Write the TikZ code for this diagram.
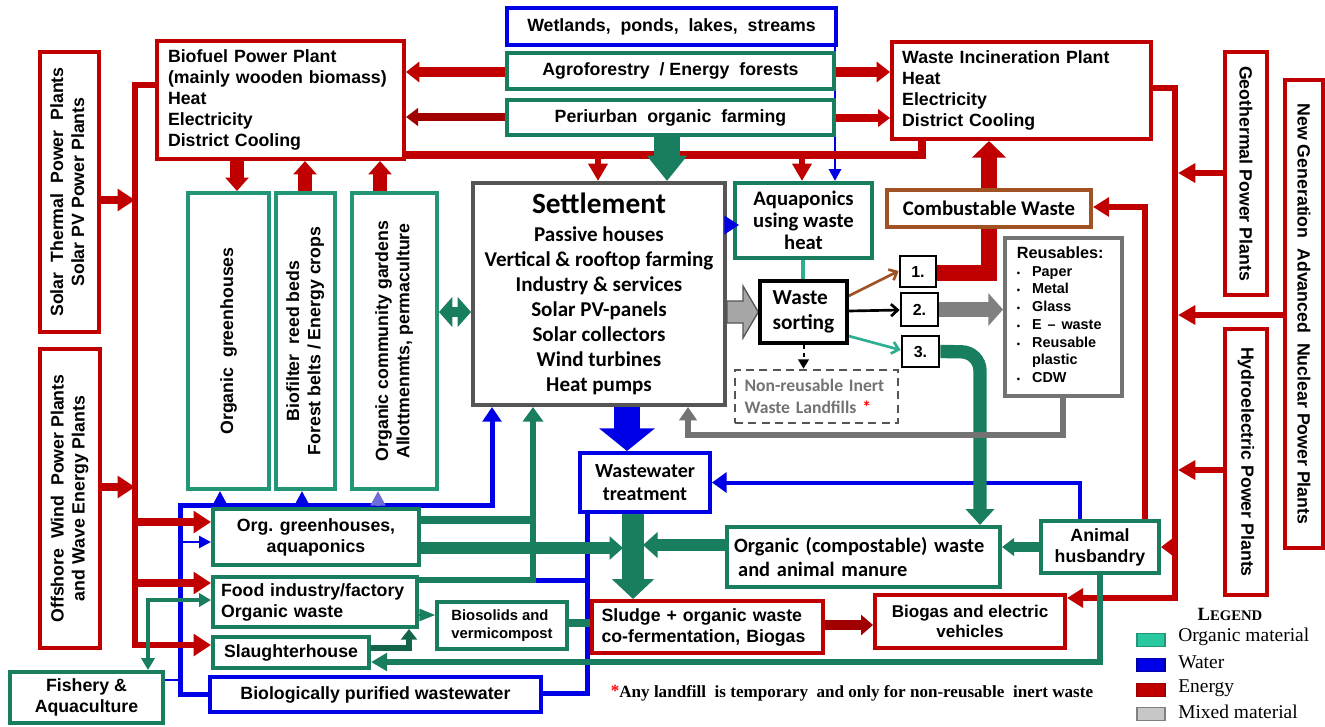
\documentclass[tikz,border=0pt]{standalone}
\usepackage{fontspec}
\usepackage{graphicx}
\setmainfont{Liberation Sans}
\newfontfamily\calfont{Carlito}
\newfontfamily\tnrfont{Liberation Serif}
\usetikzlibrary{arrows.meta}
\pgfdeclarelayer{bg}
\pgfsetlayers{bg,main}
\definecolor{ered}{RGB}{192,0,0}
\definecolor{dred}{RGB}{160,0,0}
\definecolor{ogreen}{RGB}{25,125,95}
\definecolor{tgreen}{RGB}{35,150,120}
\definecolor{lgreen}{RGB}{45,175,145}
\definecolor{wblue}{RGB}{0,0,230}
\definecolor{sgray}{RGB}{85,85,85}
\definecolor{mgray}{RGB}{166,166,166}
\definecolor{dgray}{RGB}{115,115,115}
\definecolor{agray}{RGB}{128,128,128}
\definecolor{brn}{RGB}{160,82,35}
\definecolor{leggreen}{RGB}{40,200,160}
\definecolor{purp}{RGB}{110,110,215}
\newcommand\mkbox[7]{%
  \pgfmathsetmacro\bxw{((#4)-(#2))*0.75}%
  \pgfmathsetmacro\bxh{((#5)-(#3))*0.75}%
  \node[#6, minimum width=\bxw pt, minimum height=\bxh pt] (#1) at ({((#2)+(#4))/2},{((#3)+(#5))/2}) {#7};}
\newcommand\tbul{{\fontsize{7}{7}\selectfont\textbullet}}
\tikzset{
 bx/.style={draw, line width=3pt, fill=white, inner sep=0pt, align=center},
 rbx/.style={bx, draw=ered},
 gbx/.style={bx, draw=ogreen},
 tbx/.style={bx, draw=tgreen},
 bbx/.style={bx, draw=wblue},
 nbx/.style={bx, draw=black, line width=2pt, font=\bfseries\fontsize{12}{14}\selectfont},
 cal/.style 2 args={font=\calfont\bfseries\fontsize{#1}{#2}\selectfont},
 ar/.style 2 args={-{Triangle[width=#1,length=#2]}},
 dar/.style 2 args={{Triangle[width=#1,length=#2]}-{Triangle[width=#1,length=#2]}},
 barb/.style={-{Straight Barb[width=9pt,length=5pt]}},
}
\begin{document}
\begin{tikzpicture}[x=0.75pt,y=-0.75pt,font=\bfseries\fontsize{13.3}{15.8}\selectfont]
\useasboundingbox (0,0) rectangle (1325,726);
\begin{pgfonlayer}{bg}
\fill[white] (0,0) rectangle (1325,726);
\end{pgfonlayer}

% ---------- boxes ----------
\mkbox{sol}{40}{52}{99}{332}{rbx}{\rotatebox{90}{\begin{tabular}{@{}c@{}}Solar\ \ Thermal\ \ Power\ \ Plants\\Solar PV Power Plants\end{tabular}}}
\mkbox{off}{40}{349}{100}{648}{rbx}{\rotatebox{90}{\begin{tabular}{@{}c@{}}Offshore\ \ Wind\ \ Power Plants\\and Wave Energy Plants\end{tabular}}}
\mkbox{bf}{157}{41}{404}{159}{rbx, text width=168.75pt, align=left}{Biofuel Power Plant\\(mainly wooden biomass)\\Heat\\Electricity\\District Cooling}
\mkbox{wet}{507}{8}{836}{45}{bbx}{Wetlands,\ \ ponds,\ \ lakes,\ \ streams}
\mkbox{agro}{507}{53}{834}{89}{gbx}{Agroforestry\ \ / Energy\ \ forests}
\mkbox{peri}{507}{100}{834}{135}{gbx}{Periurban\ \ organic\ \ farming}
\mkbox{inc}{892}{42}{1151}{139}{rbx, text width=179pt, align=left}{Waste Incineration Plant\\Heat\\Electricity\\District Cooling}
\mkbox{settle}{473}{183}{725}{405}{bx, draw=sgray, cal={15.8}{18.75}}{{\fontsize{22}{26}\selectfont Settlement}\\[2pt]Passive houses\\Vertical \& rooftop farming\\Industry \& services\\Solar PV-panels\\Solar collectors\\Wind turbines\\Heat pumps}
\mkbox{aqua}{735}{183}{872}{258}{gbx, cal={15.5}{16.5}}{Aquaponics\\using waste\\heat}
\mkbox{comb}{887}{190}{1091}{227}{bx, draw=brn, cal={15.6}{18}}{Combustable Waste}
\mkbox{ws}{760}{281}{847}{343}{bx, draw=black, line width=2.5pt, cal={16}{19}, align=left}{Waste\\sorting}
\mkbox{b1}{900}{256}{936}{287}{nbx}{1.}
\mkbox{b2}{901}{293}{938}{326}{nbx}{2.}
\mkbox{b3}{902}{336}{939}{367}{nbx}{3.}
\mkbox{reu}{1005}{238}{1122}{396}{bx, draw=dgray, text width=70pt, align=left}{\fontsize{10.8}{13.3}\selectfont\begin{tabular}{@{}l@{\hspace{9pt}}l@{}}\multicolumn{2}{@{}l@{}}{\fontsize{12.2}{15}\selectfont Reusables:}\\ \tbul & Paper\\ \tbul & Metal\\ \tbul & Glass\\ \tbul & E – waste\\ \tbul & Reusable\\ & plastic\\ \tbul & CDW\end{tabular}}
\mkbox{nr}{735}{370}{898}{423}{bx, draw=sgray, dash pattern=on 6pt off 4pt, line width=2pt, text=dgray, cal={13.2}{17}, text width=108pt, align=left}{Non-reusable Inert\\Waste Landfills {\color{red}*}}
\mkbox{ogh}{188}{193}{269}{489}{tbx}{\rotatebox{90}{Organic\ \ greenhouses}}
\mkbox{bfl}{276}{193}{335}{489}{tbx}{\rotatebox{90}{\begin{tabular}{@{}c@{}}Biofilter\ \ reed beds\\Forest belts / Energy crops\end{tabular}}}
\mkbox{cg}{352}{193}{437}{489}{tbx}{\rotatebox{90}{\begin{tabular}{@{}c@{}}Organic community gardens\\Allottmenmts, permaculture\end{tabular}}}
\mkbox{ogr}{213}{509}{419}{565}{gbx}{Org. greenhouses,\\aquaponics}
\mkbox{food}{213}{577}{417}{627}{gbx, text width=141pt, align=left}{Food industry/factory\\Organic waste}
\mkbox{sl}{213}{637}{369}{668}{gbx}{Slaughterhouse}
\mkbox{bios}{437}{602}{567}{649}{gbx, line width=2.5pt, font=\bfseries\fontsize{11.1}{13.5}\selectfont, align=left}{Biosolids and\\vermicompost}
\mkbox{fish}{10}{672}{163}{723}{gbx}{Fishery \&\\Aquaculture}
\mkbox{bio}{210}{677}{541}{712}{bbx}{Biologically purified wastewater}
\mkbox{wwt}{580}{453}{710}{512}{bbx, cal={15}{17}}{Wastewater\\treatment}
\mkbox{sludge}{592}{601}{823}{653}{rbx, text width=159pt, align=left}{Sludge + organic waste\\co-fermentation, Biogas}
\mkbox{oc}{727}{527}{1000}{587}{gbx, cal={15.3}{17.5}, text width=194pt, align=left}{Organic (compostable) waste\\\hspace*{3pt}and animal manure}
\mkbox{anim}{1041}{521}{1159}{573}{gbx}{Animal\\husbandry}
\mkbox{bg}{875}{595}{1065}{648}{rbx, font=\bfseries\fontsize{12.8}{15.5}\selectfont}{Biogas and electric\\vehicles}
\mkbox{geo}{1225}{52}{1267}{295}{rbx}{\rotatebox{-90}{Geothermal Power Plants}}
\mkbox{nuc}{1285}{80}{1323}{548}{rbx}{\rotatebox{-90}{New Generation\ \ Advanced\ \ Nuclear Power Plants}}
\mkbox{hyd}{1225}{329}{1267}{595}{rbx}{\rotatebox{-90}{Hydroelectric Power Plants}}

% ---------- legend & note ----------
\node[font=\tnrfont\bfseries] (legt) at (1230,614) {{\fontsize{14}{14}\selectfont L}{\fontsize{11}{11}\selectfont EGEND}};
\tikzset{sw/.style={line width=0.8pt, minimum width=21pt, minimum height=9.5pt, inner sep=0pt},
 lt/.style={anchor=west, inner sep=0pt, font=\tnrfont\mdseries\fontsize{14.6}{16}\selectfont}}
\node[sw, draw=tgreen, fill=leggreen] (sw1) at (1151,640) {};
\node[sw, draw=wblue!70!black, fill=wblue] (sw2) at (1151,665) {};
\node[sw, draw=dred, fill=ered] (sw3) at (1151,690) {};
\node[sw, draw=agray, fill=black!22] (sw4) at (1151,714) {};
\node[lt] (lt1) at (1178,637) {Organic material};
\node[lt] (lt2) at (1178,662) {Water};
\node[lt] (lt3) at (1178,688) {Energy};
\node[lt] (lt4) at (1178,712) {Mixed material};
\node[font=\tnrfont\bfseries\fontsize{12.8}{15}\selectfont] (fn) at (852,693) {{\color{red}\raisebox{1pt}{*}}Any landfill\ \ is temporary\ \ and only for non-reusable\ \ inert waste};

% blue tip from settlement into aquaponics (drawn over the boxes)
\draw[wblue, line width=1pt, ar={14pt}{11pt}] (settle.east |- 0,225) -- (739,225);

% ---------- connectors ----------
\begin{pgfonlayer}{bg}
% water
\draw[wblue, line width=3.75pt, ar={14pt}{11pt}] (bio.west) -| (180,505) -- (492,505) -- (492,0 |- settle.south);
\draw[wblue, line width=2.5pt, ar={11pt}{11pt}] (220,505) -- (ogh.south -| 220,0);
\draw[wblue, line width=2.5pt, ar={11pt}{11pt}] (302,505) -- (bfl.south -| 302,0);
\draw[purp, line width=2.5pt, ar={11pt}{11pt}] (378,505) -- (cg.south -| 378,0);
\draw[wblue, line width=2pt, ar={9pt}{9pt}] (180,542) -- (ogr.west |- 0,542);
\draw[wblue, line width=1.5pt] (fish.east |- 0,680) -- (180,680);
\draw[wblue, line width=3.75pt] (bio.east |- 0,693) -| (wwt.south -| 587,0);
\draw[wblue, line width=3.75pt] (533,580) -- (587,580);
\draw[wblue, line width=2.2pt, ar={9pt}{9pt}] (wet.south -| 835,0) -- (aqua.north -| 835,0);
\draw[wblue, line width=19pt, ar={41pt}{17pt}] (settle.south -| 627,0) -- (wwt.north -| 627,0);
\draw[wblue, line width=3pt, ar={15pt}{11pt}] (anim.north -| 1080,0) |- (wwt.east);
% energy
\draw[ered, line width=5pt, ar={16pt}{13pt}] (bf.west |- 0,85) -- (135,85) -- (135,645) -- (sl.west |- 0,645);
\draw[ered, line width=6pt, ar={16pt}{13pt}] (135,522) -- (ogr.west |- 0,522);
\draw[ered, line width=6pt, ar={16pt}{13pt}] (135,583) -- (food.west |- 0,583);
\draw[ered, line width=6pt, ar={16pt}{13pt}] (sol.east |- 0,200) -- (135,200);
\draw[ered, line width=6pt, ar={16pt}{13pt}] (off.east |- 0,487) -- (135,487);
\draw[ered, line width=10pt, ar={17pt}{10pt}] (bf.south -| 237,0) -- (ogh.north -| 237,0);
\draw[ered, line width=10pt, ar={17pt}{10pt}] (bfl.north -| 305,0) -- (bf.south -| 305,0);
\draw[ered, line width=10pt, ar={17pt}{10pt}] (cg.north -| 380,0) -- (bf.south -| 380,0);
\draw[ered, line width=7.5pt, ar={15pt}{10pt}] (agro.west |- 0,72) -- (bf.east |- 0,72);
\draw[dred, line width=6pt, ar={13pt}{9pt}] (peri.west |- 0,117) -- (bf.east |- 0,117);
\draw[ered, line width=7.5pt, ar={15pt}{10pt}] (agro.east |- 0,72) -- (inc.west |- 0,72);
\draw[ered, line width=6pt, ar={13pt}{9pt}] (peri.east |- 0,118) -- (inc.west |- 0,118);
\draw[ered, line width=6pt] (bf.east |- 0,155) -- (922,155) -- (inc.south -| 922,0);
\draw[ered, line width=5pt, ar={14pt}{13pt}] (598,155) -- (settle.north -| 598,0);
\draw[ered, line width=5pt, ar={14pt}{13pt}] (802,155) -- (aqua.north -| 802,0);
\draw[ered, line width=5pt, ar={14pt}{12pt}] (inc.east |- 0,88) -- (1175,88) -- (1175,598) -- (bg.east |- 0,598);
\draw[ered, line width=5pt, ar={13pt}{9pt}] (1175,547) -- (anim.east |- 0,547);
\draw[ered, line width=5pt, ar={14pt}{12pt}] (anim.north -| 1145,0) -- (1145,207) -- (comb.east |- 0,207);
\draw[ered, line width=5pt, ar={14pt}{13pt}] (geo.west |- 0,173) -- (1178,173);
\draw[ered, line width=5pt, ar={14pt}{13pt}] (nuc.west |- 0,315) -- (1178,315);
\draw[ered, line width=5pt, ar={14pt}{13pt}] (hyd.west |- 0,470) -- (1178,470);
\draw[ered, line width=12.5pt] (b1.east |- 0,273) -- (989,273) -- (comb.south -| 989,0);
\draw[ered, line width=12.5pt, ar={25pt}{12.5pt}] (comb.north -| 989,0) -- (inc.south -| 989,0);
\draw[dred, line width=7.5pt, ar={15pt}{9pt}] (sludge.east |- 0,625) -- (bg.west |- 0,625);
% organic
\draw[ogreen, line width=19pt, ar={29pt}{19pt}] (peri.south -| 667,0) -- (settle.north -| 667,0);
\draw[ogreen, line width=7pt, dar={22pt}{10pt}] (cg.east |- 0,312) -- (settle.west |- 0,312);
\draw[lgreen, line width=2.5pt] (aqua.south -| 803,0) -- (ws.north -| 803,0);
\draw[ogreen, line width=10pt, rounded corners=14pt, ar={21pt}{12pt}] (b3.east) -- (980,352) -- (oc.north -| 980,0);
\draw[ogreen, line width=7.5pt, ar={13pt}{9pt}] (anim.west |- 0,547) -- (oc.east |- 0,547);
\draw[ogreen, line width=6pt] (ogr.east |- 0,520) -- (533,520);
\draw[ogreen, line width=5pt, ar={15pt}{11pt}] (food.east |- 0,580) -- (533,580) -- (settle.south -| 533,0);
\draw[ogreen, line width=16pt, ar={31pt}{15pt}] (wwt.south -| 633,0) -- (sludge.north -| 633,0);
\draw[ogreen, line width=9pt, ar={19pt}{11pt}] (oc.west |- 0,545) -- (643,545);
\draw[ogreen, line width=9pt, ar={17pt}{10pt}] (ogr.east |- 0,548) -- (623,548);
\draw[ogreen, line width=2pt, ar={9pt}{12pt}] (food.east |- 0,615) -- (bios.west |- 0,615);
\draw[ogreen, line width=6pt] (bios.east |- 0,623) -- (sludge.west |- 0,623);
\draw[ogreen!80!black, line width=5pt, ar={12pt}{8pt}] (sl.east |- 0,648) -| (food.south -| 409,0);
\draw[ogreen, line width=4pt, ar={13pt}{12pt}] (anim.south -| 1100,0) -- (1100,662) -- (sl.east |- 0,662);
\draw[ogreen, line width=2.5pt, dar={10pt}{9pt}] (food.west |- 0,600) -| (fish.north -| 148,0);
% mixed
\filldraw[fill=mgray, draw=sgray, line width=1pt, line join=miter] (settle.east |- 0,301) -- (743,301) -- (743,286) -- (ws.west |- 0,312) -- (743,338) -- (743,323) -- (settle.east |- 0,323) -- cycle;
\draw[agray, line width=11pt, ar={24pt}{11pt}] (b2.east) -- (reu.west |- b2.east);
\draw[dgray, line width=4pt, ar={13pt}{10pt}] (reu.south -| 1063,0) -- (1063,435) -- (688,435) -- (settle.south -| 688,0);
% sorting arrows
\draw[black, line width=2pt, barb] (ws.east |- 0,311) -- (b2.west |- 0,310);
\draw[brn, line width=2pt, barb] (ws.east |- 0,296) -- (b1.west |- 0,271);
\draw[lgreen, line width=2pt, barb] (ws.east |- 0,336) -- (b3.west |- 0,350);
\draw[black, line width=1.5pt, dashed, ar={8pt}{7pt}] (ws.south) -- (nr.north -| ws.south);
\end{pgfonlayer}
\end{tikzpicture}
\end{document}
